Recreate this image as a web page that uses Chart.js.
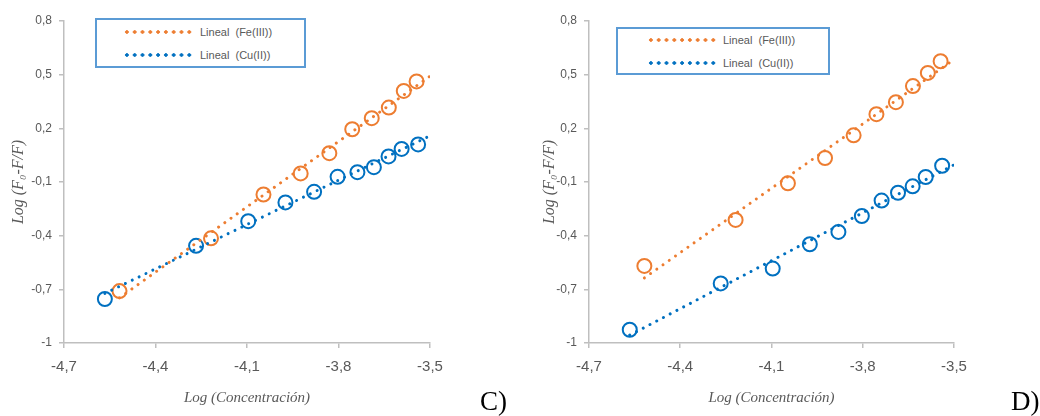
<!DOCTYPE html>
<html>
<head>
<meta charset="utf-8">
<script src="https://cdn.jsdelivr.net/npm/chart.js@4.4.1/dist/chart.umd.min.js"></script>
<style>
    body { margin: 0; background: #fff; }
    #wrap { position: relative; width: 1040px; height: 416px; overflow: hidden; }
    canvas { position: absolute; top: 0; }
    .legend { position: absolute; border: 2px solid #5B9BD5; box-sizing: border-box; background: #fff;
              font-family: "Liberation Sans", Arial, sans-serif; font-size: 11px; color: #595959; }
    .row { position: absolute; left: 0; height: 14px; }
    .dots { position: absolute; top: 5px; height: 4px; }
    .lbl { position: absolute; top: 0; white-space: pre; line-height: 14px; }
    .panel { position: absolute; font-family: "Liberation Serif", "DejaVu Serif", serif; font-size: 27px; color: #000; }
</style>
</head>
<body>
<div id="wrap">
    <canvas id="chartC" width="520" height="416" style="left:0"></canvas>
    <canvas id="chartD" width="520" height="416" style="left:520px"></canvas>

    <div class="legend" style="left:95px;top:18px;width:211px;height:50px">
        <div class="row" style="top:5px"><span class="dots" style="left:26px;width:70px;background-image:radial-gradient(circle, #ED7D31 1.5px, transparent 2px);background-size:7.8px 4px"></span><span class="lbl" style="left:103px">Lineal  (Fe(III))</span></div>
        <div class="row" style="top:28px"><span class="dots" style="left:26px;width:70px;background-image:radial-gradient(circle, #0070C0 1.5px, transparent 2px);background-size:7.8px 4px"></span><span class="lbl" style="left:103px">Lineal  (Cu(II))</span></div>
    </div>
    <div class="legend" style="left:616px;top:27px;width:214px;height:48px">
        <div class="row" style="top:4px"><span class="dots" style="left:29px;width:70px;background-image:radial-gradient(circle, #ED7D31 1.5px, transparent 2px);background-size:7.8px 4px"></span><span class="lbl" style="left:105px">Lineal  (Fe(III))</span></div>
        <div class="row" style="top:27px"><span class="dots" style="left:29px;width:70px;background-image:radial-gradient(circle, #0070C0 1.5px, transparent 2px);background-size:7.8px 4px"></span><span class="lbl" style="left:105px">Lineal  (Cu(II))</span></div>
    </div>

    <div class="panel" style="left:480px;top:386px">C)</div>
    <div class="panel" style="left:1011px;top:386px">D)</div>
</div>

<script>
// log concentration values (x)
const feX = [-4.518, -4.218, -4.046, -3.924, -3.830, -3.755, -3.691, -3.635, -3.586, -3.544];
const cuX = [-4.566, -4.267, -4.096, -3.974, -3.880, -3.803, -3.738, -3.684, -3.636, -3.593, -3.539];

// panel C
const feC = [-0.710, -0.415, -0.170, -0.052, 0.061, 0.195, 0.257, 0.316, 0.409, 0.462];
const cuC = [-0.754, -0.457, -0.319, -0.214, -0.155, -0.071, -0.045, -0.017, 0.043, 0.085, 0.110];

// panel D
const feD = [-0.569, -0.312, -0.107, 0.034, 0.161, 0.279, 0.346, 0.436, 0.510, 0.575];
const cuD = [-0.926, -0.667, -0.584, -0.448, -0.379, -0.290, -0.204, -0.160, -0.124, -0.072, -0.009];

const xTicks = [-4.7, -4.4, -4.1, -3.8, -3.5];
const yTicks = [-1, -0.7, -0.4, -0.1, 0.2, 0.5, 0.8];
const trendEnd = -3.5;

const ORANGE = '#ED7D31';
const BLUE = '#0070C0';

function fmt(v) {
    return String(Number(v.toFixed(1))).replace('.', ',');
}

function pairs(xs, ys) {
    return xs.map((x, i) => ({ x: x, y: ys[i] }));
}

// least squares line, like the excel "Lineal" trendline
function trend(xs, ys) {
    const n = xs.length;
    const mx = xs.reduce((a, b) => a + b, 0) / n;
    const my = ys.reduce((a, b) => a + b, 0) / n;
    let sxy = 0, sxx = 0;
    for (let i = 0; i < n; i++) {
        sxy += (xs[i] - mx) * (ys[i] - my);
        sxx += (xs[i] - mx) * (xs[i] - mx);
    }
    const m = sxy / sxx;
    const b = my - m * mx;
    const x0 = Math.min(...xs);
    return [{ x: x0, y: m * x0 + b }, { x: trendEnd, y: m * trendEnd + b }];
}

function makeChart(id, fe, cu, yWidth, padRight, yTitlePad) {
    const ctx = document.getElementById(id).getContext('2d');
    return new Chart(ctx, {
        type: 'scatter',
        data: {
            datasets: [
                {
                    type: 'line', data: trend(feX, fe), borderColor: ORANGE, borderWidth: 3,
                    borderDash: [0.01, 7.6], borderCapStyle: 'round', pointRadius: 0, fill: false, order: 0
                },
                {
                    type: 'line', data: trend(cuX, cu), borderColor: BLUE, borderWidth: 3,
                    borderDash: [0.01, 7.6], borderCapStyle: 'round', pointRadius: 0, fill: false, order: 0
                },
                {
                    data: pairs(feX, fe), borderColor: ORANGE, backgroundColor: 'rgba(0,0,0,0)',
                    pointRadius: 7, pointBorderWidth: 2, pointStyle: 'circle', order: 1
                },
                {
                    data: pairs(cuX, cu), borderColor: BLUE, backgroundColor: 'rgba(0,0,0,0)',
                    pointRadius: 7, pointBorderWidth: 2, pointStyle: 'circle', order: 1
                }
            ]
        },
        options: {
            responsive: false,
            animation: false,
            layout: { padding: { left: 0, right: padRight, top: 21, bottom: 0 } },
            plugins: { legend: { display: false }, tooltip: { enabled: false } },
            scales: {
                x: {
                    type: 'linear', min: -4.7, max: -3.5,
                    afterBuildTicks: s => { s.ticks = xTicks.map(v => ({ value: v })); },
                    afterFit: s => { s.height = 73; },
                    ticks: {
                        callback: v => fmt(v), color: '#595959', padding: 10,
                        font: { family: '"Liberation Sans", Arial, sans-serif', size: 15 }
                    },
                    grid: { drawOnChartArea: false, color: '#BFBFBF', tickLength: 5, lineWidth: 1.5 },
                    border: { color: '#BFBFBF', width: 1.5 },
                    title: {
                        display: true, text: 'Log (Concentración)', color: '#595959', padding: { top: 0, bottom: 9 },
                        font: { family: '"Liberation Serif", "DejaVu Serif", serif', size: 15, style: 'italic' }
                    }
                },
                y: {
                    type: 'linear', min: -1, max: 0.8,
                    afterBuildTicks: s => { s.ticks = yTicks.map(v => ({ value: v })); },
                    afterFit: s => { s.width = yWidth; },
                    ticks: {
                        callback: v => fmt(v), color: '#595959', padding: 7,
                        font: { family: '"Liberation Sans", Arial, sans-serif', size: 12 }
                    },
                    grid: { drawOnChartArea: false, color: '#BFBFBF', tickLength: 5, lineWidth: 1.5 },
                    border: { color: '#BFBFBF', width: 1.5 },
                    title: {
                        display: true, text: 'Log (F₀-F/F)', color: '#595959', padding: { top: yTitlePad, bottom: 0 },
                        font: { family: '"Liberation Serif", "DejaVu Serif", serif', size: 16, style: 'italic' }
                    }
                }
            }
        }
    });
}

document.addEventListener("DOMContentLoaded", function () {
    makeChart('chartC', feC, cuC, 64, 90, 9);
    makeChart('chartD', feD, cuD, 69, 86, 20);
});
</script>
</body>
</html>
